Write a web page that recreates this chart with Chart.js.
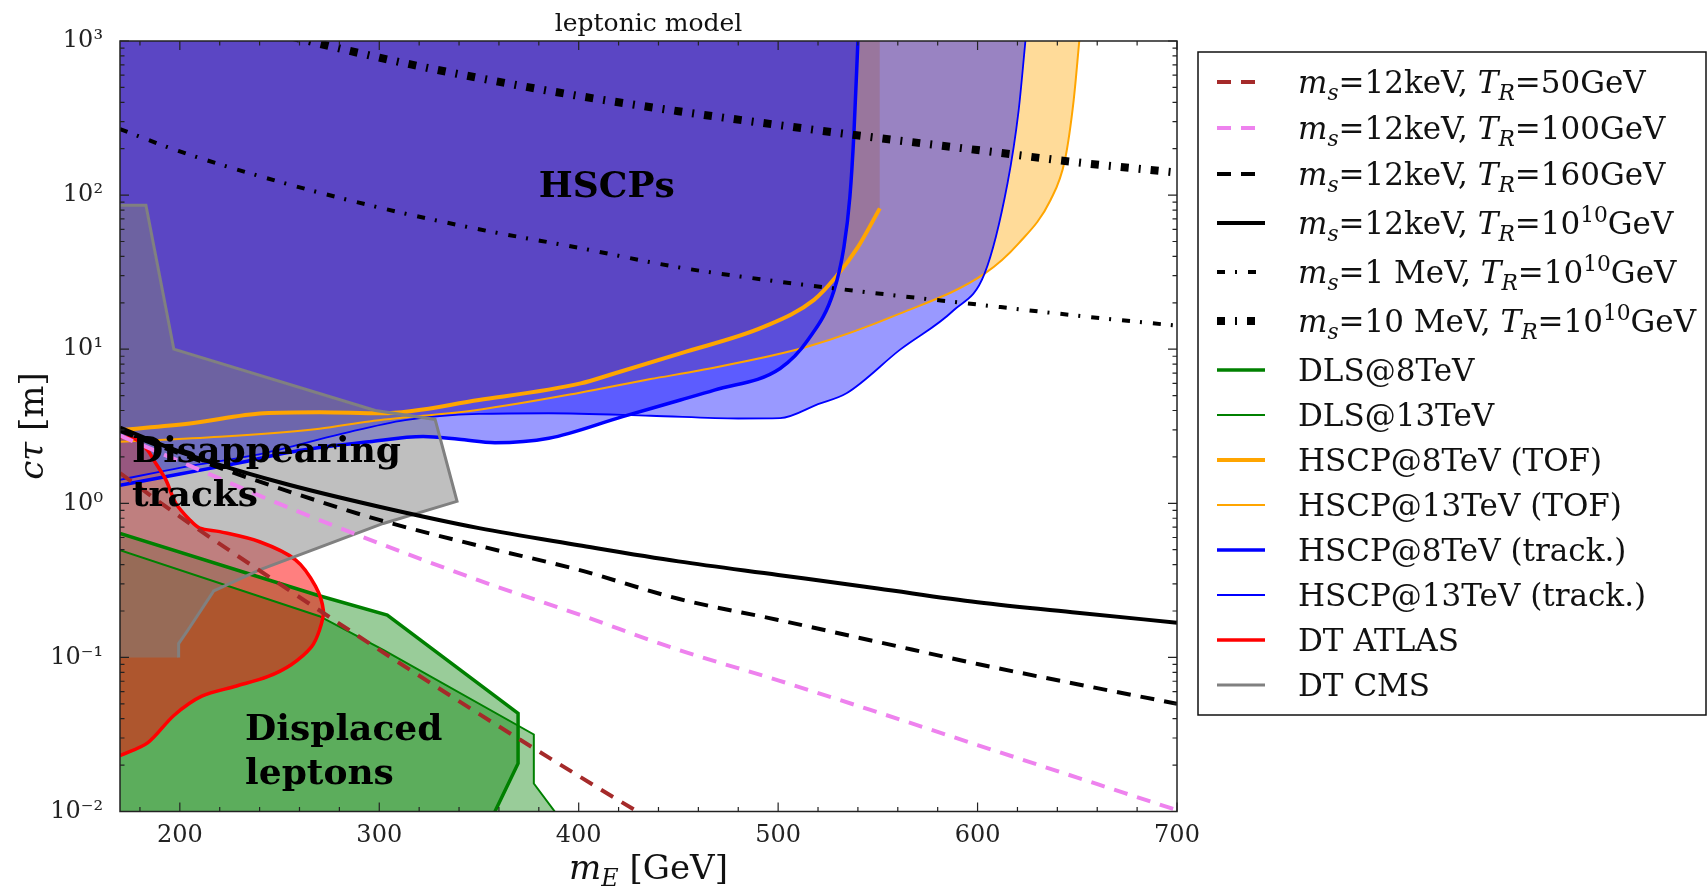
<!DOCTYPE html>
<html>
<head>
<meta charset="utf-8">
<title>leptonic model</title>
<script src="https://cdn.jsdelivr.net/npm/chart.js@4.4.1/dist/chart.umd.min.js"></script>
<style>
  html, body { margin: 0; padding: 0; background: #fff; }
  canvas { display: block; }
</style>
</head>
<body>
<canvas id="myChart" width="1707" height="889"></canvas>
<script>
// theory curves, c*tau [m] against m_E [GeV]
const mE = [170, 200, 250, 300, 350, 400, 450, 500, 550, 600, 650, 700];
const ctTR50 = [1.57, 0.82, 0.30, 0.112, 0.043, 0.017, 0.0069, null, null, null, null, null];
const ctTR100 = [2.75, 1.87, 0.99, 0.55, 0.316, 0.19, 0.112, 0.071, 0.044, 0.027, 0.0166, 0.0102];
const ctTR160 = [2.95, 2.1, 1.25, 0.78, 0.53, 0.37, 0.24, 0.175, 0.126, 0.0906, 0.067, 0.050];
const ctTR1e10 = [3.1, 2.16, 1.37, 0.95, 0.69, 0.535, 0.42, 0.343, 0.28, 0.228, 0.195, 0.168];
const ct1MeV = [268, 192, 122, 83, 60, 45.5, 34, 27.5, 23, 19.5, 16.5, 14.2];
const ct10MeV = [2400, 1750, 1120, 780, 575, 440, 350, 285, 235, 196, 163, 140];

// excluded regions (boundaries)
const hscp13TofM = [170, 220, 270, 295, 350, 400, 436, 461, 515, 561, 603.5, 620.6, 636.6, 643.8, 648.2, 651];
const hscp13TofCt = [2.51, 2.7, 3.05, 3.4, 4.05, 5.2, 6.4, 7.3, 10.4, 17, 30.9, 48.6, 93, 169, 414, 1000];
const hscp8TofM = [170, 205, 242, 270, 301, 350, 401, 417, 451, 493, 518, 529, 540, 551];
const hscp8TofCt = [2.99, 3.3, 3.84, 3.9, 3.84, 4.68, 6.0, 6.9, 9.4, 14, 20.9, 29.5, 46, 82];
const hscp13TrkM = [170, 200, 242, 280, 313, 350, 385, 436, 480, 501, 520, 534.5, 561, 588, 603.5, 615, 620.6, 624];
const hscp13TrkCt = [1.42, 1.7, 2.11, 2.8, 3.47, 3.8, 3.84, 3.7, 3.55, 3.57, 4.4, 5.2, 9.9, 17.9, 30.9, 119, 355, 1000];
const hscp8TrkM = [170, 200, 224, 260, 295, 322, 340, 358, 385, 422, 451, 468, 501, 515, 528, 533, 536, 538, 540];
const hscp8TrkCt = [1.31, 1.55, 1.77, 2.2, 2.51, 2.71, 2.6, 2.47, 2.64, 3.65, 4.68, 5.43, 7.5, 11.5, 24, 46, 98, 251, 1000];
const dls8M = [170, 268.6, 304, 369.6, 369.6, 358];
const dls8Ct = [0.638, 0.254, 0.188, 0.0434, 0.0205, 0.01];
const dls13M = [170, 270, 302, 377.5, 377.5, 388];
const dls13Ct = [0.497, 0.185, 0.112, 0.0316, 0.0152, 0.01];
const dtAtlasM = [170, 178, 184, 187, 193, 198, 205, 210, 220, 240, 258, 268, 272, 270, 266, 256, 244, 228, 211, 197, 184, 170];
const dtAtlasCt = [2.7, 2.6, 2.2, 1.9, 1.42, 1.0, 0.78, 0.69, 0.655, 0.563, 0.43, 0.29, 0.2, 0.15, 0.117, 0.09, 0.075, 0.065, 0.056, 0.042, 0.028, 0.023];
const dtCmsM = [170, 183, 197, 298, 328, 339, 302, 240, 217, 204, 199.4, 199.4];
const dtCmsCt = [86, 86, 10, 4.0, 3.5, 1.03, 0.74, 0.37, 0.27, 0.15, 0.123, 0.1];

const labels = [
  '$m_s$=12keV, $T_R$=50GeV',
  '$m_s$=12keV, $T_R$=100GeV',
  '$m_s$=12keV, $T_R$=160GeV',
  '$m_s$=12keV, $T_R$=10^{10}GeV',
  '$m_s$=1 MeV, $T_R$=10^{10}GeV',
  '$m_s$=10 MeV, $T_R$=10^{10}GeV',
  'DLS@8TeV', 'DLS@13TeV',
  'HSCP@8TeV (TOF)', 'HSCP@13TeV (TOF)',
  'HSCP@8TeV (track.)', 'HSCP@13TeV (track.)',
  'DT ATLAS', 'DT CMS'
];
const notes = [
  { lines: ['HSCPs'], m: 380, ct: 97 },
  { lines: ['Disappearing', 'tracks'], m: 176, ct: 1.85 },
  { lines: ['Displaced', 'leptons'], m: 232.7, ct: 0.0291 }
];

const xTicks = [200, 300, 400, 500, 600, 700];
const xTickLabels = ['200', '300', '400', '500', '600', '700'];
const yTicks = [0.01, 0.1, 1, 10, 100, 1000];
const yTickLabels = ['10⁻²', '10⁻¹', '10⁰', '10¹', '10²', '10³'];

const SERIF = '"DejaVu Serif"';

function pts(xs, ys) {
    return xs.map((v, i) => ({ x: v, y: ys[i] }));
}
// polygon closed back to the left axis
function closed(xs, ys) {
    const p = pts(xs, ys);
    p.push({ x: xs[0], y: ys[ys.length - 1] });
    return p;
}

function theory(idx, ys, color, width, dash) {
    return {
        label: labels[idx], legendIndex: idx, data: pts(mE, ys),
        borderColor: color, borderWidth: width, borderDash: dash, borderCapStyle: 'butt',
        fill: false, cubicInterpolationMode: 'monotone', pointRadius: 0, clip: 0
    };
}
function region(idx, xs, ys, color, fillColor, width, fillMode, tension) {
    return {
        label: labels[idx], legendIndex: idx, data: pts(xs, ys),
        borderColor: color, borderWidth: width, backgroundColor: fillColor,
        fill: fillMode, tension: tension, pointRadius: 0, clip: 0,
        cubicInterpolationMode: tension === 'mono' ? 'monotone' : 'default'
    };
}
function areaOnly(xs, ys, fillColor) {
    return {
        label: '', data: closed(xs, ys), borderColor: 'rgba(0,0,0,0)', borderWidth: 0,
        backgroundColor: fillColor, fill: 'shape', pointRadius: 0, clip: 0
    };
}

const GREEN_F = 'rgba(0,128,0,0.4)';
const datasets = [
    theory(0, ctTR50, '#a52a2a', 4, [14, 10]),
    theory(1, ctTR100, '#ee82ee', 4, [14, 10]),
    theory(2, ctTR160, '#000000', 4, [14, 10]),
    theory(3, ctTR1e10, '#000000', 4, []),
    theory(4, ct1MeV, '#000000', 4, [8, 10, 2, 11]),
    theory(5, ct10MeV, '#000000', 8, [8, 10, 2, 10]),
    // fills: earlier entries end up on top
    region(13, dtCmsM, dtCmsCt, '#808080', 'rgba(0,0,0,0)', 3, false, 0),
    areaOnly(dtCmsM, dtCmsCt, 'rgba(128,128,128,0.5)'),
    region(12, dtAtlasM, dtAtlasCt, '#ff0000', 'rgba(255,0,0,0.5)', 3.5, 'shape', 0.3),
    region(7, dls13M, dls13Ct, '#008000', 'rgba(0,0,0,0)', 2, false, 0),
    areaOnly(dls13M, dls13Ct, GREEN_F),
    region(6, dls8M, dls8Ct, '#008000', 'rgba(0,0,0,0)', 3.5, false, 0),
    areaOnly(dls8M, dls8Ct, GREEN_F),
    region(10, hscp8TrkM, hscp8TrkCt, '#0000ff', 'rgba(0,0,255,0.4)', 3.5, 'end', 'mono'),
    region(11, hscp13TrkM, hscp13TrkCt, '#0000ff', 'rgba(0,0,255,0.4)', 1.8, 'end', 'mono'),
    region(8, hscp8TofM, hscp8TofCt, '#ffa500', 'rgba(255,165,0,0.4)', 4, 'end', 'mono'),
    region(9, hscp13TofM, hscp13TofCt, '#ffa500', 'rgba(255,165,0,0.4)', 2, 'end', 'mono')
];

// small text with $italic$, _sub and ^{sup}
function richRuns(str) {
    const runs = [];
    let italic = false;
    for (let i = 0; i < str.length; i++) {
        const ch = str[i];
        if (ch === '$') { italic = !italic; continue; }
        if (ch === '_') { runs.push({ t: str[i + 1], it: italic, s: -1 }); i++; continue; }
        if (ch === '^') {
            const j = str.indexOf('}', i);
            runs.push({ t: str.slice(i + 2, j), it: false, s: 1 });
            i = j; continue;
        }
        const last = runs[runs.length - 1];
        if (last && last.s === 0 && last.it === italic) last.t += ch;
        else runs.push({ t: ch, it: italic, s: 0 });
    }
    return runs;
}
function drawRich(ctx, str, x, y, size, dry) {
    for (const r of richRuns(str)) {
        const sz = r.s ? size * 0.7 : size;
        ctx.font = (r.it ? 'italic ' : '') + sz + 'px ' + SERIF;
        const dy = r.s < 0 ? size * 0.22 : (r.s > 0 ? -size * 0.4 : 0);
        if (!dry) ctx.fillText(r.t, x, y + dy);
        x += ctx.measureText(r.t).width;
    }
    return x;
}

const decor = {
    id: 'decor',
    afterDraw(chart) {
        const { ctx, chartArea: a } = chart;
        const x = chart.scales.x, y = chart.scales.y;
        ctx.save();
        ctx.setLineDash([]);

        // inward ticks on all sides
        ctx.strokeStyle = '#222';
        ctx.lineWidth = 1.2;
        ctx.beginPath();
        const tx = (v, len) => {
            const p = x.getPixelForValue(v);
            ctx.moveTo(p, a.bottom); ctx.lineTo(p, a.bottom - len);
            ctx.moveTo(p, a.top); ctx.lineTo(p, a.top + len);
        };
        const ty = (v, len) => {
            const p = y.getPixelForValue(v);
            ctx.moveTo(a.left, p); ctx.lineTo(a.left + len, p);
            ctx.moveTo(a.right, p); ctx.lineTo(a.right - len, p);
        };
        for (let v = 180; v < 700; v += 20) if (v % 100) tx(v, 4.5);
        xTicks.forEach(v => tx(v, 9));
        for (let e = -2; e < 3; e++) for (let m = 2; m < 10; m++) ty(m * Math.pow(10, e), 4.5);
        yTicks.forEach(v => ty(v, 9));
        ctx.stroke();
        ctx.lineWidth = 1.5;
        ctx.strokeRect(a.left, a.top, a.right - a.left, a.bottom - a.top);

        ctx.fillStyle = '#111';
        ctx.textBaseline = 'alphabetic';
        ctx.textAlign = 'center';
        ctx.font = '25px ' + SERIF;
        ctx.fillText('leptonic model', (a.left + a.right) / 2, 31);

        // axis titles
        ctx.textAlign = 'left';
        const xt = '$m_E$ [GeV]';
        const w = drawRich(ctx, xt, 0, 0, 34, true);
        drawRich(ctx, xt, (a.left + a.right) / 2 - w / 2, 879, 34);
        ctx.save();
        ctx.translate(43, 426);
        ctx.rotate(-Math.PI / 2);
        const yt = '$cτ$ [m]';
        const wy = drawRich(ctx, yt, 0, 0, 34, true);
        drawRich(ctx, yt, -wy / 2, 0, 34);
        ctx.restore();

        // region names
        ctx.fillStyle = '#000';
        ctx.font = 'bold 36px ' + SERIF;
        notes.forEach(n => {
            const px = x.getPixelForValue(n.m), py = y.getPixelForValue(n.ct);
            n.lines.forEach((t, i) => ctx.fillText(t, px, py + i * 43.5));
        });

        // legend
        const L = { left: 1198, top: 52, right: 1706, bottom: 715 };
        ctx.fillStyle = '#fff';
        ctx.fillRect(L.left, L.top, L.right - L.left, L.bottom - L.top);
        ctx.strokeStyle = '#111';
        ctx.lineWidth = 1.5;
        ctx.strokeRect(L.left, L.top, L.right - L.left, L.bottom - L.top);
        const rows = chart.data.datasets.filter(d => d.legendIndex !== undefined)
            .sort((p, q) => p.legendIndex - q.legendIndex);
        let rowY = 82;
        rows.forEach((d, i) => {
            if (i > 0) {
                const sup = /\^/.test(d.label) || /\^/.test(rows[i - 1].label);
                const math = /\$/.test(d.label) || /\$/.test(rows[i - 1].label);
                rowY += sup ? 49 : (math ? 46 : 45);
            }
            ctx.strokeStyle = d.borderColor;
            ctx.lineWidth = d.borderWidth;
            ctx.lineCap = 'butt';
            ctx.setLineDash(d.borderDash || []);
            ctx.beginPath();
            ctx.moveTo(1217, rowY);
            ctx.lineTo(1265, rowY);
            ctx.stroke();
            ctx.setLineDash([]);
            ctx.fillStyle = '#111';
            drawRich(ctx, d.label, 1298, rowY + 11, 31);
        });
        ctx.restore();
    }
};

const config = {
    type: 'line',
    data: { datasets: datasets },
    options: {
        responsive: false,
        animation: false,
        events: [],
        layout: { padding: { top: 41, right: 530, left: 0, bottom: 0 } },
        plugins: {
            legend: { display: false },
            tooltip: { enabled: false },
            filler: { drawTime: 'beforeDatasetsDraw' }
        },
        scales: {
            x: {
                type: 'linear', min: 170, max: 700,
                grid: { display: false }, border: { display: false },
                afterBuildTicks: ax => { ax.ticks = xTicks.map(v => ({ value: v })); },
                afterFit: ax => { ax.height = 77.5; },
                ticks: {
                    padding: 2, maxRotation: 0, autoSkip: false, color: '#222',
                    font: { family: 'DejaVu Serif', size: 24 },
                    callback: (v, i) => xTickLabels[i]
                }
            },
            y: {
                type: 'logarithmic', min: 0.01, max: 1000,
                grid: { display: false }, border: { display: false },
                afterBuildTicks: ax => { ax.ticks = yTicks.map(v => ({ value: v })); },
                afterFit: ax => { ax.width = 120; },
                ticks: {
                    padding: 9, autoSkip: false, color: '#222',
                    font: { family: 'DejaVu Serif', size: 24 },
                    callback: (v, i) => yTickLabels[i]
                }
            }
        }
    },
    plugins: [decor]
};

var myChart = new Chart(document.getElementById('myChart'), config);
</script>
</body>
</html>
